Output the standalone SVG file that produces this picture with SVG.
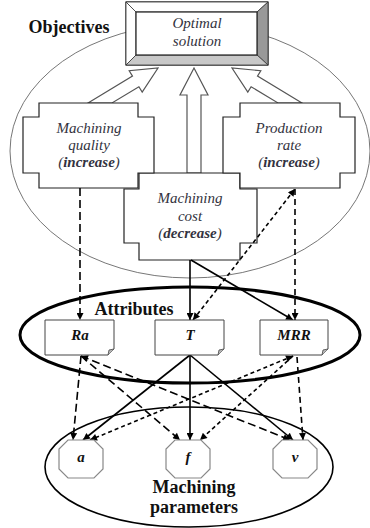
<svg xmlns="http://www.w3.org/2000/svg" width="370" height="528" viewBox="0 0 370 528">
<defs>
<marker id="ah" viewBox="0 0 10 10" refX="10" refY="5" markerWidth="10" markerHeight="7" markerUnits="userSpaceOnUse" orient="auto-start-reverse">
<path d="M0,0 L10,5 L0,10 z" fill="#000"/>
</marker>
<style>
.bold{font-family:"Liberation Serif","Times New Roman",serif;font-weight:bold;font-size:18px;fill:#111;text-anchor:middle}
.lbl{font-family:"Liberation Serif","Times New Roman",serif;font-style:italic;font-size:15px;fill:#333340;text-anchor:middle}
.attr{font-family:"Liberation Serif","Times New Roman",serif;font-style:italic;font-weight:bold;font-size:15px;fill:#111;text-anchor:middle}
.obj{fill:#fff;stroke:#222;stroke-width:1.2}
.blk{fill:#fff;stroke:#555;stroke-width:1.2}
.note{fill:#fff;stroke:#444;stroke-width:1}
.oct{fill:#fff;stroke:#888;stroke-width:1.2}
.c{fill:none;stroke:#000;stroke-width:1.6}
.ld{stroke-dasharray:8,4}
.sd{stroke-dasharray:4,3}
.md{stroke-dasharray:6,4}
</style>
</defs>

<g id="objectives-group">
<ellipse cx="190" cy="151" rx="180" ry="127" fill="none" stroke="#777" stroke-width="1"/>
<text class="bold" x="69" y="33">Objectives</text>
</g>

<g id="attributes-group">
<ellipse cx="190" cy="335" rx="170" ry="48" fill="none" stroke="#000" stroke-width="3"/>
<text class="bold" x="134" y="315">Attributes</text>
</g>

<g id="parameters-group">
<ellipse cx="189" cy="467" rx="144" ry="60" fill="none" stroke="#000" stroke-width="1.6"/>
<text class="bold" x="194" y="493">Machining</text>
<text class="bold" x="194" y="513">parameters</text>
</g>

<g id="block-arrows">
<polygon class="blk" points="88,103 132.5,76.1 129.2,70.7 158,68 142.2,92.1 138.9,86.7 112,103"/>
<polygon class="blk" points="302,103 257.5,76.1 260.8,70.7 232,68 247.8,92.1 251.1,86.7 278,103"/>
<polygon class="blk" points="187,173 187,95 180,95 194,68 208,95 201,95 201,173"/>
</g>

<g id="optimal-solution">
<rect x="126" y="2" width="142" height="63" fill="#fff" stroke="#222" stroke-width="1.2"/>
<polygon points="126,2 268,2 257,12 136,12" fill="#fff" stroke="#333" stroke-width="0.8"/>
<polygon points="126,2 136,12 136,55 126,65" fill="#fff" stroke="#333" stroke-width="0.8"/>
<polygon points="268,2 268,65 257,55 257,12" fill="#999" stroke="#333" stroke-width="0.8"/>
<polygon points="126,65 136,55 257,55 268,65" fill="#c8c8c8" stroke="#333" stroke-width="0.8"/>
<rect x="136" y="12" width="121" height="43" fill="#fff" stroke="#222" stroke-width="1.2"/>
<text class="lbl" x="197" y="28">Optimal</text>
<text class="lbl" x="197" y="46">solution</text>
</g>

<g id="machining-cost">
<polygon class="obj" points="139,173 240,173 240,189 257,189 257,243 240,243 240,260 139,260 139,243 124,243 124,189 139,189"/>
<text class="lbl" x="190" y="203">Machining</text>
<text class="lbl" x="190" y="221">cost</text>
<text class="lbl" x="190" y="238">(<tspan font-weight="bold">decrease</tspan>)</text>
</g>

<g id="machining-quality">
<polygon class="obj" points="39,103 138,103 138,117 154,117 154,173 138,173 138,188 39,188 39,173 23,173 23,117 39,117"/>
<text class="lbl" x="89" y="133">Machining</text>
<text class="lbl" x="89" y="150">quality</text>
<text class="lbl" x="89" y="167">(<tspan font-weight="bold">increase</tspan>)</text>
</g>

<g id="production-rate">
<polygon class="obj" points="240,103 340,103 340,117 355,117 355,173 340,173 340,188 240,188 240,173 223,173 223,117 240,117"/>
<text class="lbl" x="289" y="133">Production</text>
<text class="lbl" x="289" y="150">rate</text>
<text class="lbl" x="289" y="167">(<tspan font-weight="bold">increase</tspan>)</text>
</g>

<g id="connectors">
<line class="c ld" x1="80" y1="188" x2="80" y2="320" marker-end="url(#ah)"/>
<line class="c" x1="190" y1="260" x2="190" y2="320" marker-end="url(#ah)"/>
<line class="c" x1="191" y1="260" x2="293" y2="320" marker-end="url(#ah)"/>
<line class="c sd" x1="193" y1="320" x2="295" y2="189" marker-start="url(#ah)" marker-end="url(#ah)"/>
<line class="c md" x1="295" y1="189" x2="295" y2="320" marker-end="url(#ah)"/>

<line class="c" x1="190" y1="355" x2="83" y2="440" marker-end="url(#ah)"/>
<line class="c" x1="190" y1="355" x2="190" y2="440" marker-end="url(#ah)"/>
<line class="c" x1="190" y1="355" x2="293" y2="440" marker-end="url(#ah)"/>

<line class="c ld" x1="81" y1="356" x2="73" y2="440" marker-end="url(#ah)"/>
<line class="c ld" x1="81" y1="356" x2="180" y2="440" marker-end="url(#ah)"/>
<line class="c ld" x1="81" y1="356" x2="290" y2="440" marker-start="url(#ah)" marker-end="url(#ah)"/>

<line class="c sd" x1="293" y1="356" x2="90" y2="440" marker-start="url(#ah)" marker-end="url(#ah)"/>
<line class="c sd" x1="293" y1="356" x2="200" y2="440" marker-end="url(#ah)"/>
<line class="c md" x1="297" y1="357" x2="303" y2="440" marker-end="url(#ah)"/>
</g>

<g id="attr-Ra">
<path class="note" d="M45,320 H114 V349 L108,355 H45 Z"/>
<path d="M108,355 L109,350 L114,349" fill="#bbb" stroke="#444" stroke-width="0.8"/>
<text class="attr" x="80" y="340">Ra</text>
</g>
<g id="attr-T">
<path class="note" d="M155,320 H224 V349 L218,355 H155 Z"/>
<path d="M218,355 L219,350 L224,349" fill="#bbb" stroke="#444" stroke-width="0.8"/>
<text class="attr" x="190" y="340">T</text>
</g>
<g id="attr-MRR">
<path class="note" d="M260,320 H328 V349 L322,355 H260 Z"/>
<path d="M322,355 L323,350 L328,349" fill="#bbb" stroke="#444" stroke-width="0.8"/>
<text class="attr" x="294" y="340">MRR</text>
</g>

<g id="param-a">
<polygon class="oct" points="68,440 94,440 103,449 103,469 94,478 68,478 59,469 59,449"/>
<text class="attr" x="81" y="462" font-size="14">a</text>
</g>
<g id="param-f">
<polygon class="oct" points="175,440 201,440 210,449 210,469 201,478 175,478 166,469 166,449"/>
<text class="attr" x="188" y="462" font-size="14">f</text>
</g>
<g id="param-v">
<polygon class="oct" points="282,440 308,440 317,449 317,469 308,478 282,478 273,469 273,449"/>
<text class="attr" x="295" y="462" font-size="14">v</text>
</g>
</svg>
